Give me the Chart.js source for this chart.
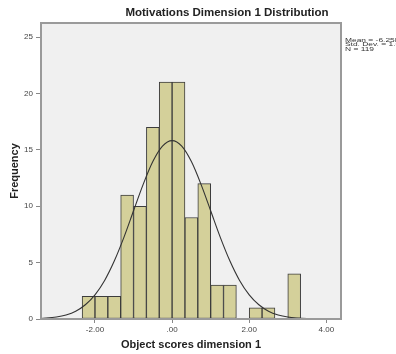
<!DOCTYPE html>
<html>
<head>
<meta charset="utf-8">
<script src="https://cdn.jsdelivr.net/npm/chart.js@4/dist/chart.umd.min.js"></script>
<style>
  html, body { margin: 0; padding: 0; background: #fff; }
  #wrap { width: 396px; height: 354px; }
</style>
</head>
<body>
<div id="wrap"><canvas id="chart" width="396" height="354"></canvas></div>
<script>
// histogram bins (centre of each 1/3-wide bin) and counts
const binMids = [-2.1667, -1.8333, -1.5, -1.1667, -0.8333, -0.5, -0.1667, 0.1667, 0.5,
                 0.8333, 1.1667, 1.5, 1.8333, 2.1667, 2.5, 2.8333, 3.1667];
const counts = [2, 2, 2, 11, 10, 17, 21, 21, 9, 12, 3, 3, 0, 1, 1, 0, 4];

// fitted normal curve
const curveX = [-3.4, -3.0, -2.75, -2.5, -2.25, -2.0, -1.75, -1.5, -1.25, -1.0, -0.75, -0.5, -0.25, 0,
                0.25, 0.5, 0.75, 1.0, 1.25, 1.5, 1.75, 2.0, 2.25, 2.5, 2.75, 3.0, 3.5, 4.0, 4.38];
const curveY = [0.05, 0.18, 0.36, 0.69, 1.26, 2.14, 3.42, 5.14, 7.24, 9.6, 11.94, 13.96, 15.33, 15.82,
                15.33, 13.96, 11.94, 9.6, 7.24, 5.14, 3.42, 2.14, 1.26, 0.69, 0.36, 0.18, 0.03, 0.0, 0.0];

const xTicks = [-2, 0, 2, 4];
const yTicks = [0, 5, 10, 15, 20, 25];

const chartTitle = 'Motivations Dimension 1 Distribution';
const statsLines = ['Mean = -6.25E-17', 'Std. Dev. = 1.004', 'N = 119'];

const frame = {
  id: 'frame',
  beforeDraw(chart) {
    const { ctx, chartArea: a } = chart;
    ctx.save();
    ctx.fillStyle = '#f0f0f0';
    ctx.fillRect(a.left, a.top, a.right - a.left, a.bottom - a.top);
    ctx.restore();
  },
  afterDraw(chart) {
    const { ctx, chartArea: a } = chart;
    ctx.save();
    ctx.strokeStyle = '#9a9a9a';
    ctx.lineWidth = 2;
    ctx.strokeRect(a.left, a.top, a.right - a.left, a.bottom - a.top);

    ctx.fillStyle = '#222';
    ctx.font = 'bold 11.5px "Liberation Sans", Arial, sans-serif';
    ctx.textAlign = 'center';
    ctx.textBaseline = 'middle';
    ctx.fillText(chartTitle, 227, 13);

    // little stats box on the right
    ctx.fillStyle = '#333';
    ctx.font = '7px "Liberation Sans", Arial, sans-serif';
    ctx.textAlign = 'left';
    ctx.textBaseline = 'middle';
    statsLines.forEach((s, i) => {
      ctx.save();
      ctx.translate(345, 40.7 + i * 4.3);
      ctx.scale(1.2, 0.75);
      ctx.fillText(s, 0, 0);
      ctx.restore();
    });
    ctx.restore();
  }
};

new Chart(document.getElementById('chart'), {
  type: 'bar',
  data: {
    datasets: [
      {
        type: 'line',
        order: 0,
        data: curveX.map((x, i) => ({ x: x, y: curveY[i] })),
        borderColor: '#333',
        borderWidth: 1.1,
        pointRadius: 0,
        fill: false,
        cubicInterpolationMode: 'monotone'
      },
      {
        type: 'bar',
        order: 1,
        data: binMids.map((x, i) => ({ x: x, y: counts[i] })),
        backgroundColor: '#d4d09a',
        borderColor: '#3c3c3c',
        borderWidth: ctx => (ctx.raw && ctx.raw.y === 0 ? 0 : 1),
        borderSkipped: false,
        barPercentage: 1,
        categoryPercentage: 1
      }
    ]
  },
  options: {
    responsive: false,
    animation: false,
    layout: { padding: { top: 23, right: 55, left: 0, bottom: 0 } },
    plugins: {
      legend: { display: false },
      tooltip: { enabled: false },
      title: { display: false }
    },
    scales: {
      x: {
        type: 'linear',
        offset: false,
        min: -3.4,
        max: 4.38,
        afterBuildTicks: s => { s.ticks = xTicks.map(v => ({ value: v })); },
        afterFit: s => { s.height = 35; },
        grid: { offset: false, drawOnChartArea: false, drawTicks: true, tickLength: 4, tickColor: '#888' },
        border: { display: false },
        ticks: {
          padding: 2,
          color: '#444',
          font: { family: '"Liberation Sans", Arial, sans-serif', size: 8 },
          callback: v => v.toFixed(2).replace(/^(-?)0\./, '$1.')
        },
        title: {
          display: true,
          text: 'Object scores dimension 1',
          color: '#222',
          font: { family: '"Liberation Sans", Arial, sans-serif', size: 11, weight: 'bold' },
          padding: { top: 0, bottom: 2 }
        }
      },
      y: {
        min: 0,
        max: 26.25,
        afterBuildTicks: s => { s.ticks = yTicks.map(v => ({ value: v })); },
        afterFit: s => { s.width = 41; },
        grid: { drawOnChartArea: false, drawTicks: true, tickLength: 5, tickColor: '#888' },
        border: { display: false },
        ticks: {
          padding: 3,
          color: '#444',
          font: { family: '"Liberation Sans", Arial, sans-serif', size: 8 }
        },
        title: {
          display: true,
          text: 'Frequency',
          color: '#222',
          font: { family: '"Liberation Sans", Arial, sans-serif', size: 11, weight: 'bold' },
          padding: { top: 8, bottom: 0 }
        }
      }
    }
  },
  plugins: [frame]
});
</script>
</body>
</html>
